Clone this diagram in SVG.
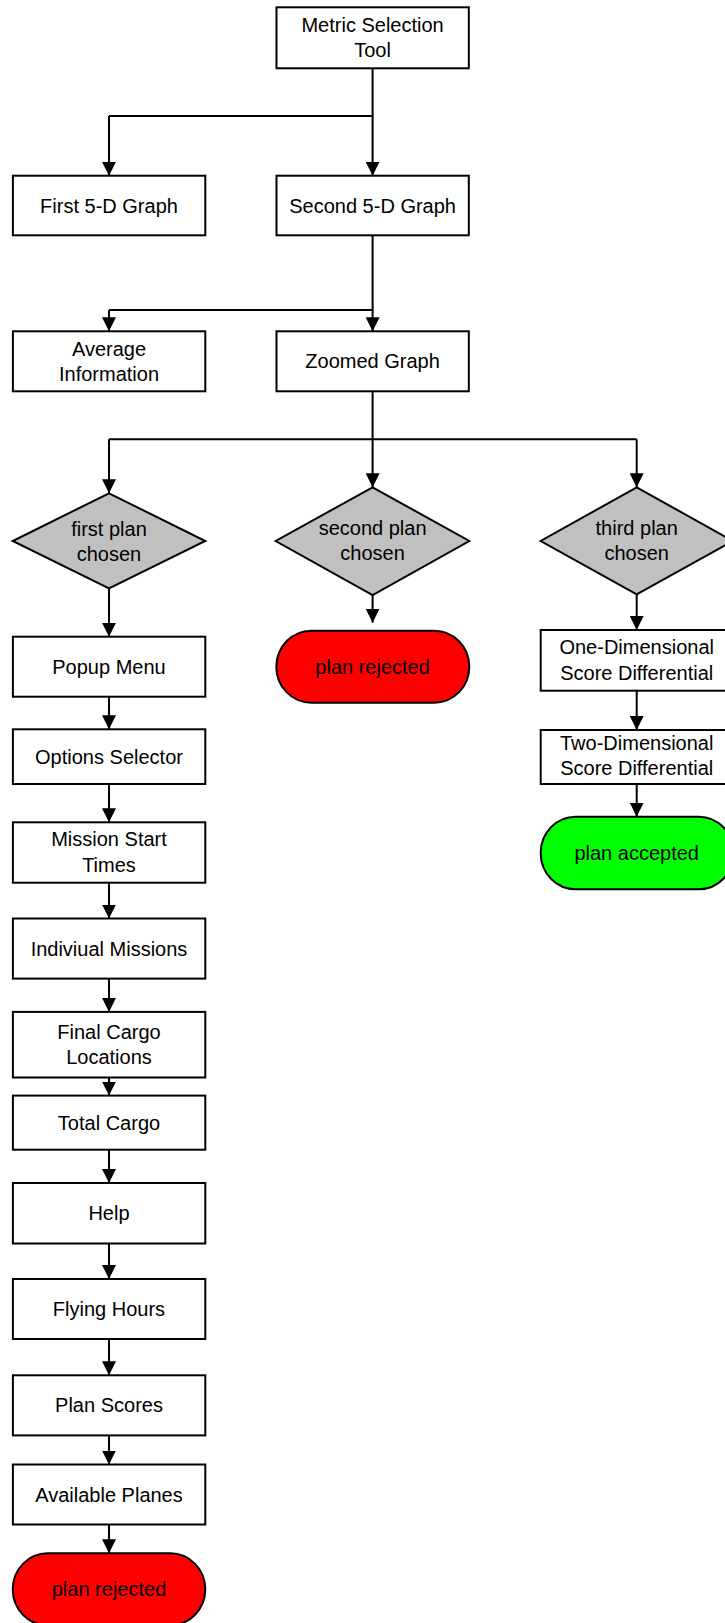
<svg xmlns="http://www.w3.org/2000/svg" width="725" height="1623" viewBox="0 0 725 1623">
<style>
.box{fill:#fff;stroke:#000;stroke-width:2}
.dia{fill:#c0c0c0;stroke:#000;stroke-width:2}
.red{fill:#ff0000;stroke:#000;stroke-width:2}
.grn{fill:#00ff00;stroke:#000;stroke-width:2}
.t{font-family:"Liberation Sans",Arial,sans-serif;font-size:20px;fill:#000;text-anchor:middle}
.c{fill:none;stroke:#000;stroke-width:2}
.a{stroke:#000;stroke-width:2;fill:none;marker-end:url(#ah)}
</style>
<defs>
<marker id="ah" markerUnits="userSpaceOnUse" markerWidth="14" markerHeight="14" refX="14" refY="7" orient="auto">
<path d="M0,0 L14,7 L0,14 z" fill="#000"/>
</marker>
</defs>
<rect width="725" height="1623" fill="#fff"/>
<g id="connectors">
<path class="c" d="M372.6,68.3 V116 H109"/>
<path class="a" d="M109,116 V175.7"/>
<path class="a" d="M372.6,116 V175.7"/>
<path class="c" d="M372.6,235.3 V310 H109"/>
<path class="a" d="M109,310 V331.3"/>
<path class="a" d="M372.6,310 V331.3"/>
<path class="c" d="M372.6,391.3 V439.3 M109,439.3 H636.7"/>
<path class="a" d="M109,439.3 V493.3"/>
<path class="a" d="M372.6,439.3 V487.3"/>
<path class="a" d="M636.7,439.3 V487.3"/>
<path class="a" d="M109,588.3 V636.7"/>
<path class="a" d="M372.6,595 V622.7"/>
<path class="a" d="M636.7,594.3 V630"/>
<path class="a" d="M636.7,690.7 V730"/>
<path class="a" d="M636.7,784 V816.7"/>
<path class="a" d="M109,696.7 V729.3"/>
<path class="a" d="M109,784 V822.3"/>
<path class="a" d="M109,882.7 V918.5"/>
<path class="a" d="M109,978.6 V1011.9"/>
<path class="a" d="M109,1077.5 V1095.6"/>
<path class="a" d="M109,1149.7 V1183"/>
<path class="a" d="M109,1243.5 V1279"/>
<path class="a" d="M109,1339 V1375.3"/>
<path class="a" d="M109,1435.4 V1464.5"/>
<path class="a" d="M109,1524.5 V1553.3"/>
</g>
<g id="metric"><rect class="box" x="276.5" y="7.3" width="192.3" height="61"/><text class="t" x="372.6" y="32">Metric Selection</text><text class="t" x="372.6" y="57">Tool</text></g>
<g id="first5d"><rect class="box" x="12.9" y="175.7" width="192.4" height="59.6"/><text class="t" x="109" y="212.5">First 5-D Graph</text></g>
<g id="second5d"><rect class="box" x="276.5" y="175.7" width="192.3" height="59.6"/><text class="t" x="372.6" y="212.5">Second 5-D Graph</text></g>
<g id="average"><rect class="box" x="12.9" y="331.3" width="192.4" height="60"/><text class="t" x="109" y="356">Average</text><text class="t" x="109" y="380.5">Information</text></g>
<g id="zoomed"><rect class="box" x="276.5" y="331.3" width="192.3" height="60"/><text class="t" x="372.6" y="368.3">Zoomed Graph</text></g>
<g id="firstplan"><polygon class="dia" points="109,493.3 205.3,541 109,588.3 12.7,541"/><text class="t" x="109" y="535.5">first plan</text><text class="t" x="109" y="560.5">chosen</text></g>
<g id="secondplan"><polygon class="dia" points="372.6,487.3 469.3,541 372.6,595 275.7,541"/><text class="t" x="372.6" y="535">second plan</text><text class="t" x="372.6" y="560">chosen</text></g>
<g id="thirdplan"><polygon class="dia" points="636.7,487.3 732.7,541 636.7,594.3 540.7,541"/><text class="t" x="636.7" y="535">third plan</text><text class="t" x="636.7" y="560">chosen</text></g>
<g id="rejected2"><rect class="red" x="276.3" y="630.7" width="193" height="72" rx="35" ry="36"/><text class="t" x="372.6" y="673.5">plan rejected</text></g>
<g id="onedim"><rect class="box" x="540.7" y="630" width="192.3" height="60.7"/><text class="t" x="636.7" y="654">One-Dimensional</text><text class="t" x="636.7" y="680">Score Differential</text></g>
<g id="twodim"><rect class="box" x="540.7" y="730" width="192.3" height="54"/><text class="t" x="636.7" y="749.5">Two-Dimensional</text><text class="t" x="636.7" y="775.3">Score Differential</text></g>
<g id="accepted"><rect class="grn" x="540.7" y="816.7" width="193" height="72.6" rx="35" ry="36"/><text class="t" x="636.7" y="859.5">plan accepted</text></g>
<g id="popup"><rect class="box" x="12.9" y="636.7" width="192.4" height="60"/><text class="t" x="109" y="673.7">Popup Menu</text></g>
<g id="options"><rect class="box" x="12.9" y="729.3" width="192.4" height="54.7"/><text class="t" x="109" y="763.7">Options Selector</text></g>
<g id="mission"><rect class="box" x="12.9" y="822.3" width="192.4" height="60.4"/><text class="t" x="109" y="846">Mission Start</text><text class="t" x="109" y="871.7">Times</text></g>
<g id="individual"><rect class="box" x="12.9" y="918.5" width="192.4" height="60.1"/><text class="t" x="109" y="955.5">Indiviual Missions</text></g>
<g id="finalcargo"><rect class="box" x="12.9" y="1011.9" width="192.4" height="65.6"/><text class="t" x="109" y="1038.7">Final Cargo</text><text class="t" x="109" y="1064">Locations</text></g>
<g id="totalcargo"><rect class="box" x="12.9" y="1095.6" width="192.4" height="54.1"/><text class="t" x="109" y="1129.7">Total Cargo</text></g>
<g id="help"><rect class="box" x="12.9" y="1183" width="192.4" height="60.5"/><text class="t" x="109" y="1220.3">Help</text></g>
<g id="flying"><rect class="box" x="12.9" y="1279" width="192.4" height="60"/><text class="t" x="109" y="1316">Flying Hours</text></g>
<g id="planscores"><rect class="box" x="12.9" y="1375.3" width="192.4" height="60.1"/><text class="t" x="109" y="1412.3">Plan Scores</text></g>
<g id="available"><rect class="box" x="12.9" y="1464.5" width="192.4" height="60"/><text class="t" x="109" y="1501.5">Available Planes</text></g>
<g id="rejected1"><rect class="red" x="12.7" y="1553.3" width="192.6" height="72" rx="35" ry="36"/><text class="t" x="109" y="1596">plan rejected</text></g>
</svg>
